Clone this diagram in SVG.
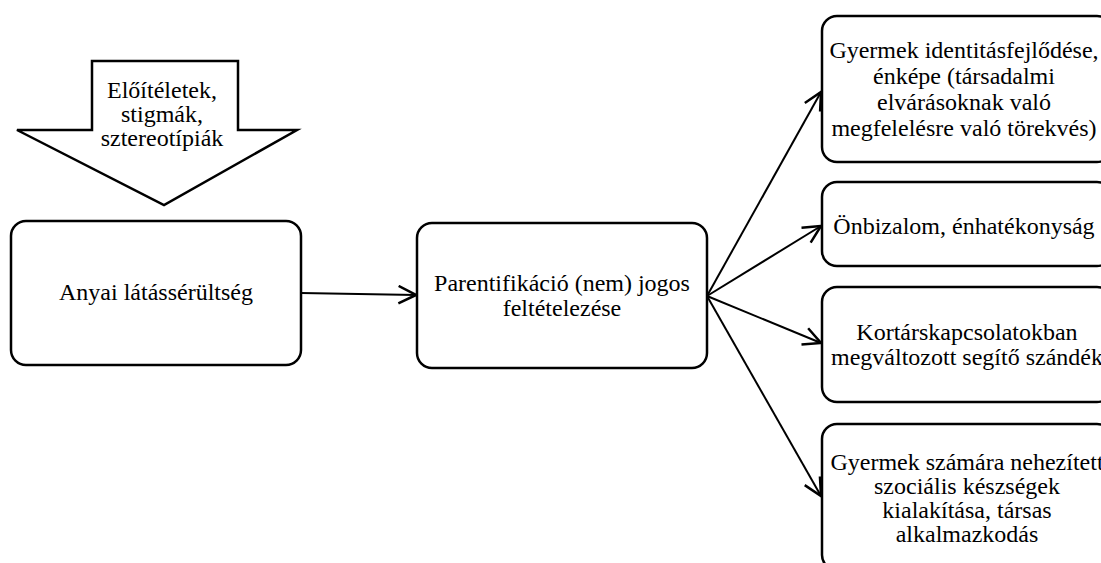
<svg xmlns="http://www.w3.org/2000/svg" width="1101" height="563" viewBox="0 0 1101 563">
<style>
.box{fill:#fff;stroke:#000;stroke-width:2.5}
.t{font-family:"Liberation Serif","Times New Roman",serif;font-size:24px;fill:#000;text-anchor:middle}
.c{stroke:#000;stroke-width:2;fill:none}
</style>
<defs>
<marker id="ah" markerUnits="userSpaceOnUse" markerWidth="20" markerHeight="20" viewBox="0 0 16 16" refX="15" refY="8" orient="auto">
<path d="M1,1 L15,8 L1,15" fill="none" stroke="#000" stroke-width="2"/>
</marker>
</defs>
<rect width="1101" height="563" fill="#fff"/>
<g id="bias">
<polygon points="92,61 238,61 238,130 297,130 164,205 17,130 92,130" fill="#fff" stroke="#000" stroke-width="2.5"/>
<text class="t" x="162" y="98">Előítéletek,</text>
<text class="t" x="162" y="122">stigmák,</text>
<text class="t" x="162" y="146">sztereotípiák</text>
</g>
<g id="connectors">
<line class="c" x1="301" y1="293" x2="416" y2="295" marker-end="url(#ah)"/>
<line class="c" x1="707" y1="296" x2="821" y2="92" marker-end="url(#ah)"/>
<line class="c" x1="707" y1="296" x2="821" y2="226" marker-end="url(#ah)"/>
<line class="c" x1="707" y1="296" x2="821" y2="343" marker-end="url(#ah)"/>
<line class="c" x1="707" y1="296" x2="821" y2="496" marker-end="url(#ah)"/>
</g>
<g id="anyai">
<rect class="box" x="11" y="221" width="290" height="144" rx="15"/>
<text class="t" x="156" y="300">Anyai látássérültség</text>
</g>
<g id="parent">
<rect class="box" x="417" y="223" width="290" height="145" rx="15"/>
<text class="t" x="562" y="291">Parentifikáció (nem) jogos</text>
<text class="t" x="562" y="316">feltételezése</text>
</g>
<g id="identity">
<rect class="box" x="822" y="16" width="290" height="146" rx="15"/>
<text class="t" x="964" y="58">Gyermek identitásfejlődése,</text>
<text class="t" x="964" y="84">énképe (társadalmi</text>
<text class="t" x="964" y="110">elvárásoknak való</text>
<text class="t" x="964" y="136">megfelelésre való törekvés)</text>
</g>
<g id="selfesteem">
<rect class="box" x="822" y="182" width="290" height="84" rx="15"/>
<text class="t" x="964" y="234">Önbizalom, énhatékonyság</text>
</g>
<g id="peers">
<rect class="box" x="822" y="287" width="290" height="115" rx="15"/>
<text class="t" x="967" y="340">Kortárskapcsolatokban</text>
<text class="t" x="967" y="365">megváltozott segítő szándék</text>
</g>
<g id="social">
<rect class="box" x="822" y="424" width="290" height="146" rx="15"/>
<text class="t" x="967" y="470">Gyermek számára nehezített</text>
<text class="t" x="967" y="494">szociális készségek</text>
<text class="t" x="967" y="518">kialakítása, társas</text>
<text class="t" x="967" y="542">alkalmazkodás</text>
</g>
</svg>
